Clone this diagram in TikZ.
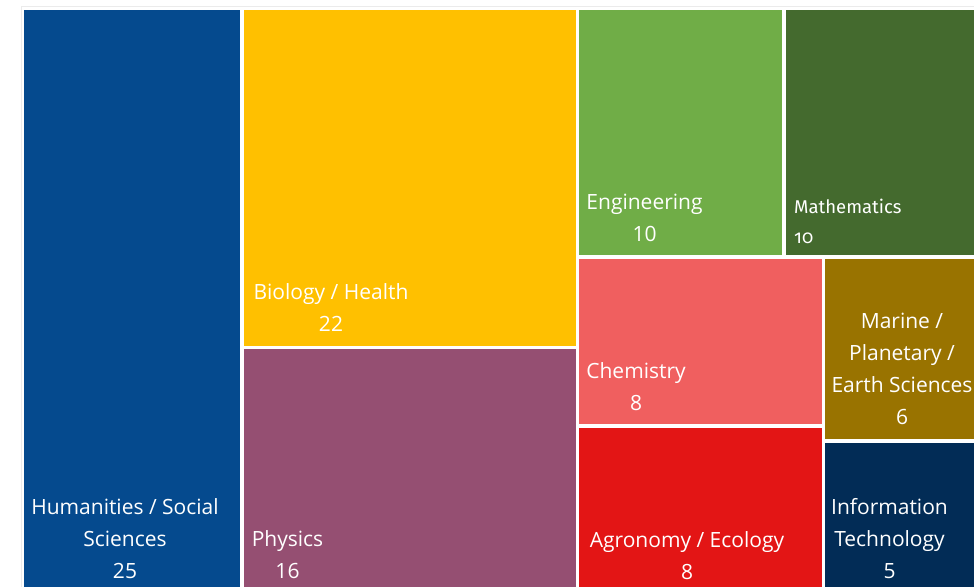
\documentclass[tikz,border=0pt]{standalone}
\usepackage{fontspec}
\setmainfont{Open Sans}
\newfontfamily\mathsfont[Numbers=OldStyle]{Fira Sans}
\definecolor{chum}{HTML}{054A8E}
\definecolor{cbio}{HTML}{FFC000}
\definecolor{cphy}{HTML}{954F72}
\definecolor{ceng}{HTML}{70AD47}
\definecolor{cmat}{HTML}{446A2E}
\definecolor{cche}{HTML}{F05F5F}
\definecolor{cagr}{HTML}{E31515}
\definecolor{cmar}{HTML}{997300}
\definecolor{cit}{HTML}{022C56}
\tikzset{
  tile/.style={anchor=north west, inner sep=0pt, outer sep=0pt, draw=none},
  lbl/.style={text=white, align=center, inner sep=0pt, font=\fontsize{21}{32}\selectfont},
  mlbl/.style={text=white, align=left, inner sep=0pt, anchor=west, font=\mathsfont\fontsize{18.5}{30}\selectfont}
}
\begin{document}
\begin{tikzpicture}[x=1pt,y=-1pt]
\useasboundingbox (0,0) rectangle (974,587);
\fill[white] (0,0) rectangle (974,587);
\draw[black!8, line width=0.8pt] (21,587) -- (21,6) -- (974,6);
% tiles
\node[tile, fill=chum, minimum width=216, minimum height=577] (hum) at (24,10) {};
\node[tile, fill=cbio, minimum width=332, minimum height=336] (bio) at (244,10) {};
\node[tile, fill=cphy, minimum width=332, minimum height=238] (phy) at (244,349) {};
\node[tile, fill=ceng, minimum width=203, minimum height=245] (eng) at (579,10) {};
\node[tile, fill=cmat, minimum width=188, minimum height=245] (mat) at (786,10) {};
\node[tile, fill=cche, minimum width=243, minimum height=165] (che) at (579,259) {};
\node[tile, fill=cagr, minimum width=243, minimum height=159] (agr) at (579,428) {};
\node[tile, fill=cmar, minimum width=149, minimum height=180] (mar) at (825,259) {};
\node[tile, fill=cit, minimum width=149, minimum height=144] (it) at (825,443) {};
% labels
\node[lbl] (humL) at (125,539) {Humanities / Social\\Sciences\\25};
\node[lbl] (bioL) at (331,308) {Biology / Health\\22};
\node[lbl] (phyL) at (287.5,555) {Physics\\16};
\node[lbl] (engL) at (644.5,218) {Engineering\\10};
\node[mlbl] (matL) at (794,221) {Mathematics\\10};
\node[lbl] (cheL) at (636,387) {Chemistry\\8};
\node[lbl] (agrL) at (687,555.5) {Agronomy / Ecology\\8};
\node[lbl] (marL) at (902,369) {Marine /\\Planetary /\\Earth Sciences\\6};
\node[lbl] (itL) at (889.5,539) {Information\\Technology\\5};
\end{tikzpicture}
\end{document}
